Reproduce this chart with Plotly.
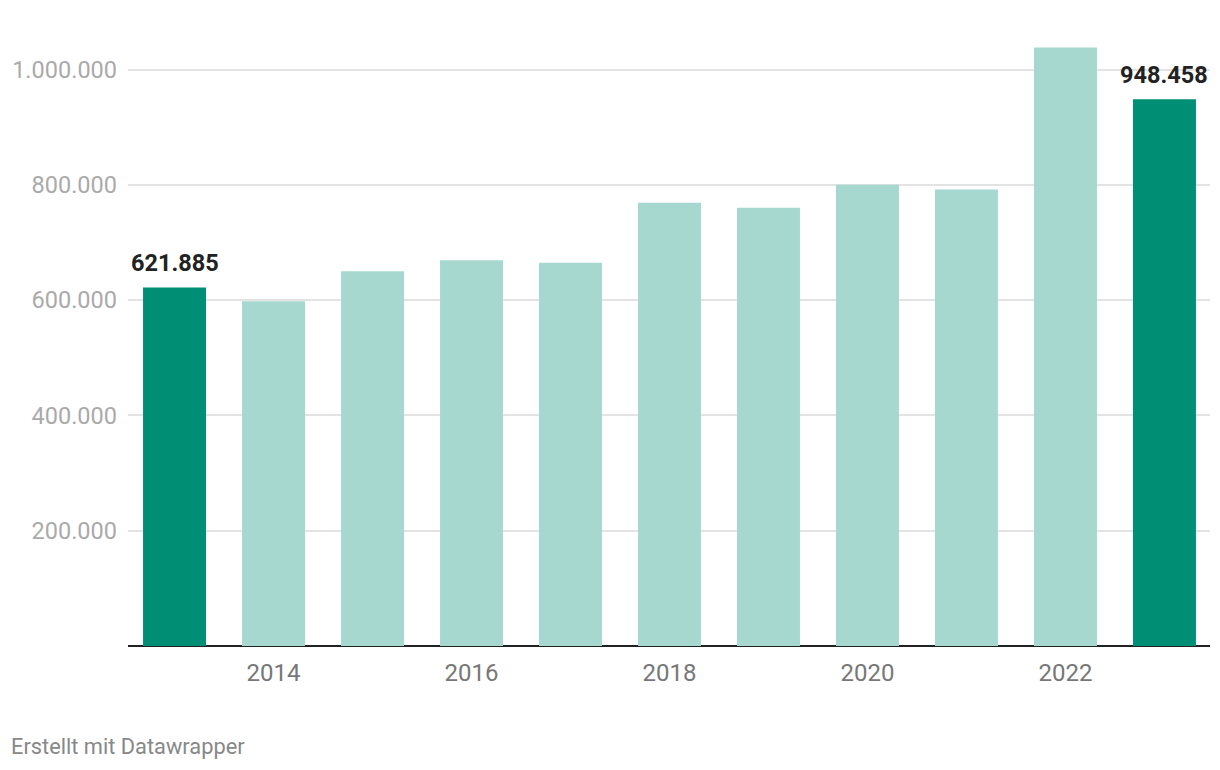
import plotly.graph_objects as go

years = [2013, 2014, 2015, 2016, 2017, 2018, 2019, 2020, 2021, 2022, 2023]
values = [621885, 598000, 650000, 669000, 665000, 769000, 760000, 800000, 792000, 1038000, 948458]
highlight = [True, False, False, False, False, False, False, False, False, False, True]
ytick_vals = [200000, 400000, 600000, 800000, 1000000]
ytick_text = ["200.000", "400.000", "600.000", "800.000", "1.000.000"]
xtick_vals = [2014, 2016, 2018, 2020, 2022]

DARK = "#008f74"
LIGHT = "#a7d8d0"
colors = [DARK if h else LIGHT for h in highlight]

def fmt(v):
    return f"{v:,}".replace(",", ".")

fig = go.Figure()
fig.add_trace(go.Bar(x=years, y=values, marker=dict(color=colors, line=dict(width=0)),
                     width=0.636, hoverinfo="skip"))

for yr, v, h in zip(years, values, highlight):
    if h:
        fig.add_annotation(x=yr, y=v, text=f"<b>{fmt(v)}</b>", showarrow=False,
                           yanchor="bottom", yshift=8,
                           font=dict(family="Roboto", size=23.5, color="#222222"))

fig.add_annotation(xref="paper", yref="paper", x=0, y=0, xanchor="left", yanchor="middle",
                   text="Erstellt mit Datawrapper", showarrow=False,
                   xshift=-119, yshift=-100,
                   font=dict(family="Roboto", size=21.8, color="#888888"))

fig.update_layout(
    width=1220, height=770,
    margin=dict(l=120, r=18, t=32, b=132, autoexpand=False),
    paper_bgcolor="white", plot_bgcolor="white",
    showlegend=False,
    font=dict(family="Roboto"),
    xaxis=dict(range=[2012.53, 2023.46], tickvals=xtick_vals, ticktext=[str(v) for v in xtick_vals],
               showgrid=False, zeroline=False, showline=False, ticks="", automargin=False,
               tickfont=dict(family="Roboto", size=24, color="#777777"), ticklabelstandoff=10),
    yaxis=dict(range=[0, 1051170], tickvals=ytick_vals, ticktext=ytick_text,
               showgrid=True, gridcolor="#e3e3e3", gridwidth=2,
               zeroline=True, zerolinecolor="#222222", zerolinewidth=2,
               showline=False, ticks="", automargin=False,
               tickfont=dict(family="Roboto", size=23.5, color="#aaaaaa"), ticklabelstandoff=10),
)

fig.write_html("out.html")
